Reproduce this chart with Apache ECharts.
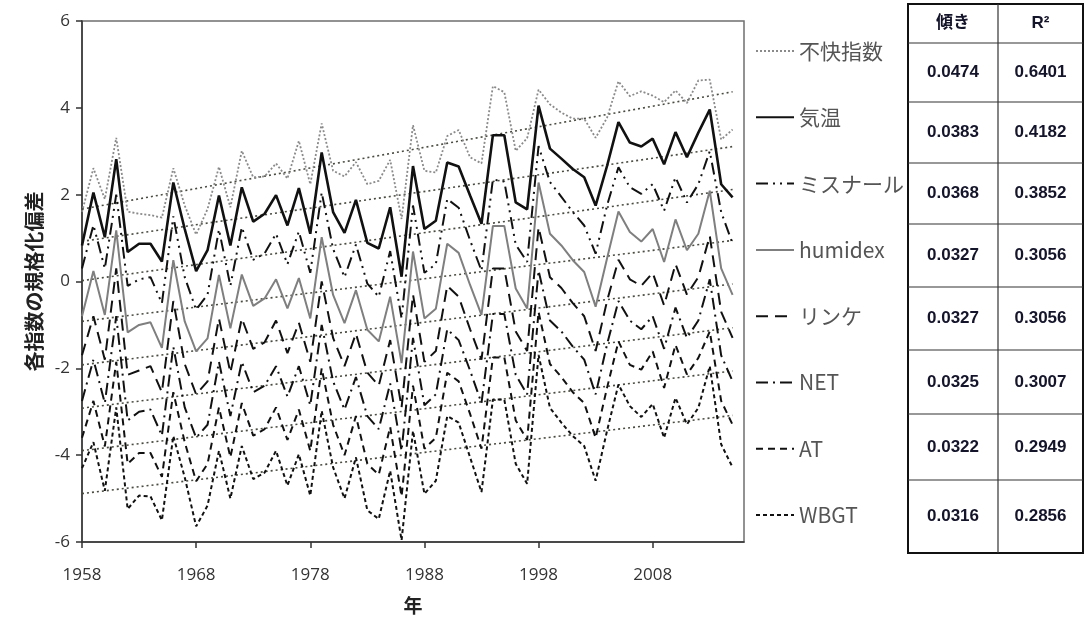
<!DOCTYPE html>
<html>
<head>
<meta charset="utf-8">
<script src="https://cdn.jsdelivr.net/npm/echarts@6/dist/echarts.min.js"></script>
<style>
  html, body { margin: 0; padding: 0; background: #fff; }
  #chart { width: 1088px; height: 620px; }
</style>
</head>
<body>
<div id="chart"></div>
<script>
const years = [
  1958, 1959, 1960, 1961, 1962, 1963, 1964, 1965, 1966, 1967,
  1968, 1969, 1970, 1971, 1972, 1973, 1974, 1975, 1976, 1977,
  1978, 1979, 1980, 1981, 1982, 1983, 1984, 1985, 1986, 1987,
  1988, 1989, 1990, 1991, 1992, 1993, 1994, 1995, 1996, 1997,
  1998, 1999, 2000, 2001, 2002, 2003, 2004, 2005, 2006, 2007,
  2008, 2009, 2010, 2011, 2012, 2013, 2014, 2015
]
const xTicks = [1958, 1968, 1978, 1988, 1998, 2008]

// 不快指数 (offset +3)
const fukai = [
  1.6, 2.61, 1.9, 3.31, 1.61, 1.56, 1.53, 1.47, 2.61, 1.75,
  1.08, 1.67, 2.64, 1.71, 3.01, 2.4, 2.42, 2.72, 2.37, 3.24,
  2.24, 3.64, 2.55, 2.42, 2.75, 2.24, 2.32, 2.8, 1.44, 3.6,
  2.55, 2.51, 3.35, 3.49, 2.86, 2.72, 4.5, 4.36, 3.01, 3.3,
  4.42, 4.08, 3.89, 3.75, 3.75, 3.31, 3.77, 4.61, 4.27, 4.38,
  4.28, 4.13, 4.4, 4.11, 4.63, 4.65, 3.27, 3.5
]
// 気温 (offset +2)
const kion = [
  0.83, 2.05, 1.02, 2.82, 0.68, 0.87, 0.87, 0.46, 2.28, 1.21,
  0.24, 0.72, 1.98, 0.83, 2.17, 1.38, 1.56, 1.99, 1.29, 2.15,
  1.1, 2.97, 1.6, 1.12, 1.88, 0.89, 0.76, 1.71, 0.11, 2.66,
  1.21, 1.4, 2.74, 2.65, 1.98, 1.33, 3.37, 3.37, 1.82, 1.66,
  4.05, 3.06, 2.83, 2.59, 2.4, 1.75, 2.66, 3.67, 3.2, 3.11,
  3.29, 2.7, 3.44, 2.86, 3.43, 3.96, 2.24, 1.94
]
// ミスナール (offset +1)
const missenard = [
  0.3, 1.3, 0.3, 2.0, -0.1, 0.05, 0.1, -0.5, 1.5, 0.1,
  -0.65, -0.3, 1.2, -0.1, 1.25, 0.5, 0.65, 1.1, 0.4, 1.15,
  0.2, 2.05, 0.75, 0.1, 0.85, -0.05, -0.35, 0.7, -0.85, 1.75,
  0.2, 0.4, 1.9, 1.7, 0.95, 0.25, 2.35, 2.3, 0.85, 0.45,
  3.12, 2.29, 1.95, 1.6, 1.29, 0.64, 1.75, 2.63, 2.17, 2.02,
  2.24, 1.63, 2.4, 1.82, 2.24, 3.0, 1.6, 0.87
]
// humidex (offset 0)
const humidex = [
  -0.8, 0.24, -0.77, 1.18, -1.17, -1.0, -0.94, -1.53, 0.49, -0.92,
  -1.61, -1.31, 0.15, -1.08, 0.16, -0.56, -0.39, 0.05, -0.62, 0.08,
  -0.85, 1.02, -0.31, -0.96, -0.2, -1.11, -1.38, -0.35, -1.88, 0.69,
  -0.85, -0.63, 0.87, 0.66, -0.08, -0.77, 1.28, 1.28, -0.16, -0.62,
  2.28, 1.1, 0.83, 0.49, 0.22, -0.58, 0.53, 1.61, 1.14, 0.92,
  1.21, 0.45, 1.43, 0.72, 1.1, 2.09, 0.3, -0.31
]
// リンケ (offset -1)
const linke = [
  -1.7, -0.8, -1.8, 0.3, -2.15, -2.05, -1.95, -2.55, -0.45, -1.9,
  -2.6, -2.3, -0.85, -2.1, -0.85, -1.55, -1.4, -0.9, -1.65, -0.95,
  -1.85, 0.0, -1.3, -1.95, -1.2, -2.1, -2.4, -1.35, -2.9, -0.3,
  -1.85, -1.6, -0.1, -0.35, -1.1, -1.8, 0.3, 0.3, -1.15, -1.6,
  1.25, 0.1, -0.15, -0.5, -0.8, -1.6, -0.45, 0.5, 0.05, -0.1,
  0.2, -0.55, 0.4, -0.3, 0.1, 1.05, -0.7, -1.3
]
// NET (offset -2)
const net = [
  -2.75, -1.8, -2.8, -0.8, -3.2, -3.0, -2.95, -3.55, -1.5, -2.9,
  -3.6, -3.3, -1.85, -3.1, -1.85, -2.55, -2.4, -1.95, -2.65, -1.95,
  -2.85, -1.0, -2.3, -2.95, -2.2, -3.1, -3.4, -2.35, -3.9, -1.3,
  -2.85, -2.6, -1.1, -1.35, -2.05, -2.8, -0.75, -0.75, -2.15, -2.6,
  0.25, -0.9, -1.15, -1.5, -1.8, -2.6, -1.45, -0.45, -0.9, -1.1,
  -0.8, -1.55, -0.6, -1.3, -0.9, 0.05, -1.7, -2.3
]
// AT (offset -3)
const at = [
  -3.6, -2.75, -3.8, -1.85, -4.2, -3.95, -3.95, -4.5, -2.55, -3.7,
  -4.6, -4.2, -2.9, -4.05, -2.8, -3.55, -3.4, -2.9, -3.65, -2.95,
  -3.9, -2.0, -3.3, -4.0, -3.1, -4.2, -4.45, -3.35, -4.95, -2.4,
  -3.85, -3.6, -2.1, -2.3, -3.05, -3.85, -1.75, -1.75, -3.2, -3.65,
  -0.7, -1.9, -2.2, -2.55, -2.8, -3.6, -2.45, -1.38, -1.92, -2.03,
  -1.61, -2.45, -1.46, -2.14, -1.76, -1.15, -2.75, -3.3
]
// WBGT (offset -4)
const wbgt = [
  -4.3, -3.7, -4.82, -2.9, -5.24, -4.93, -4.95, -5.5, -3.56, -4.51,
  -5.64, -5.16, -3.9, -5.0, -3.79, -4.55, -4.4, -3.9, -4.7, -3.98,
  -4.93, -2.98, -4.28, -5.0, -4.05, -5.27, -5.47, -4.36, -5.96, -3.44,
  -4.89, -4.59, -3.1, -3.25, -4.05, -4.85, -2.72, -2.72, -4.2, -4.66,
  -1.69, -2.91, -3.25, -3.56, -3.79, -4.59, -3.44, -2.37, -2.87, -3.12,
  -2.82, -3.6, -2.68, -3.29, -2.91, -1.95, -3.75, -4.28
]

const names = ['不快指数', '気温', 'ミスナール', 'humidex', 'リンケ', 'NET', 'AT', 'WBGT']
const slopes = ['0.0474', '0.0383', '0.0368', '0.0327', '0.0327', '0.0325', '0.0322', '0.0316']
const r2 = ['0.6401', '0.4182', '0.3852', '0.3056', '0.3056', '0.3007', '0.2949', '0.2856']

const allSeries = [fukai, kion, missenard, humidex, linke, net, at, wbgt]
const styles = [
  { color: '#8a8a8a', width: 1.8, type: [2, 2] },
  { color: '#111', width: 2.6, type: 'solid' },
  { color: '#111', width: 2, type: [12, 5, 2, 5, 2, 5] },
  { color: '#7f7f7f', width: 2, type: 'solid' },
  { color: '#111', width: 2, type: [12, 7] },
  { color: '#111', width: 2, type: [12, 5, 2, 5] },
  { color: '#111', width: 2, type: [7, 5] },
  { color: '#111', width: 2, type: [4, 3] }
]

const fontLatin = "'Open Sans', 'Noto Sans CJK JP', sans-serif"
const fontJp = "'Noto Sans CJK JP', sans-serif"

const chart = echarts.init(document.getElementById('chart'))

// trend lines: slope from the table, passing through the series mean
const meanYear = years.reduce((a, b) => a + b, 0) / years.length
const trendSeries = allSeries.map((vals, i) => {
  const mean = vals.reduce((a, b) => a + b, 0) / vals.length
  const k = parseFloat(slopes[i])
  const x0 = years[0]
  const x1 = years[years.length - 1]
  return {
    name: names[i] + '_trend',
    type: 'line',
    data: [[x0, mean + k * (x0 - meanYear)], [x1, mean + k * (x1 - meanYear)]],
    symbol: 'none',
    silent: true,
    z: 1,
    lineStyle: { color: '#4a4a40', width: 1.6, type: [2, 3] }
  }
})

const dataSeries = allSeries.map((vals, i) => ({
  name: names[i],
  type: 'line',
  data: years.map((y, j) => [y, vals[j]]),
  symbol: 'none',
  z: 3,
  lineStyle: styles[i],
  itemStyle: { color: styles[i].color }
}))

// table
const rowEdges = [4, 43, 102, 163, 224, 287, 350, 414, 480, 553]
const colEdges = [908, 998, 1083]
const tableEls = [{
  type: 'rect',
  shape: { x: colEdges[0], y: rowEdges[0], width: colEdges[2] - colEdges[0], height: rowEdges[9] - rowEdges[0] },
  style: { fill: '#fff', stroke: '#111', lineWidth: 2 },
  z: 100
}]
for (let r = 1; r < rowEdges.length - 1; r++) {
  tableEls.push({
    type: 'line',
    shape: { x1: colEdges[0], y1: rowEdges[r], x2: colEdges[2], y2: rowEdges[r] },
    style: { stroke: '#333', lineWidth: 1.2 },
    z: 101
  })
}
tableEls.push({
  type: 'line',
  shape: { x1: colEdges[1], y1: rowEdges[0], x2: colEdges[1], y2: rowEdges[9] },
  style: { stroke: '#333', lineWidth: 1.2 },
  z: 101
})
const cellText = (txt, c, r) => ({
  type: 'text',
  x: (colEdges[c] + colEdges[c + 1]) / 2,
  y: (rowEdges[r] + rowEdges[r + 1]) / 2,
  style: {
    text: txt,
    fill: '#14142a',
    font: "bold 17px 'Liberation Sans', 'Noto Sans CJK JP', sans-serif",
    align: 'center',
    verticalAlign: 'middle'
  },
  z: 102
})
tableEls.push(cellText('傾き', 0, 0))
tableEls.push(cellText('R²', 1, 0))
slopes.forEach((s, i) => tableEls.push(cellText(s, 0, i + 1)))
r2.forEach((s, i) => tableEls.push(cellText(s, 1, i + 1)))

chart.setOption({
  animation: false,
  grid: {
    left: 82,
    right: 344,
    top: 21,
    bottom: 75,
    show: true,
    borderColor: '#6f6f6f',
    borderWidth: 1.5
  },
  legend: {
    data: names,
    orient: 'vertical',
    left: 750,
    top: 35,
    itemWidth: 38,
    itemHeight: 14,
    itemGap: 44.3,
    itemStyle: { opacity: 0 },
    textStyle: {
      fontFamily: fontJp,
      fontSize: 21,
      lineHeight: 22,
      color: '#555'
    }
  },
  xAxis: {
    type: 'value',
    min: 1958,
    max: 2016,
    name: '年',
    nameLocation: 'middle',
    nameGap: 54,
    nameTextStyle: { fontFamily: fontJp, fontSize: 19, fontWeight: 'bold', color: '#222' },
    axisLine: { show: true, onZero: false, lineStyle: { color: '#333', width: 1.5 } },
    axisTick: { show: true, length: 6, customValues: xTicks, lineStyle: { color: '#333', width: 1.5 } },
    axisLabel: {
      customValues: xTicks,
      margin: 25,
      fontFamily: fontLatin,
      fontSize: 17,
      color: '#333',
      formatter: v => String(v)
    },
    splitLine: { show: false }
  },
  yAxis: {
    type: 'value',
    min: -6,
    max: 6,
    interval: 2,
    name: '各指数の規格化偏差',
    nameLocation: 'middle',
    nameGap: 26,
    nameTextStyle: { fontFamily: fontJp, fontSize: 20, fontWeight: 'bold', color: '#222' },
    axisLine: { show: true, lineStyle: { color: '#333', width: 1.5 } },
    axisTick: { show: true, length: 6, lineStyle: { color: '#333', width: 1.5 } },
    axisLabel: { margin: 12, fontFamily: fontLatin, fontSize: 17, color: '#333' },
    splitLine: { show: false }
  },
  graphic: tableEls,
  series: trendSeries.concat(dataSeries)
})
</script>
</body>
</html>
